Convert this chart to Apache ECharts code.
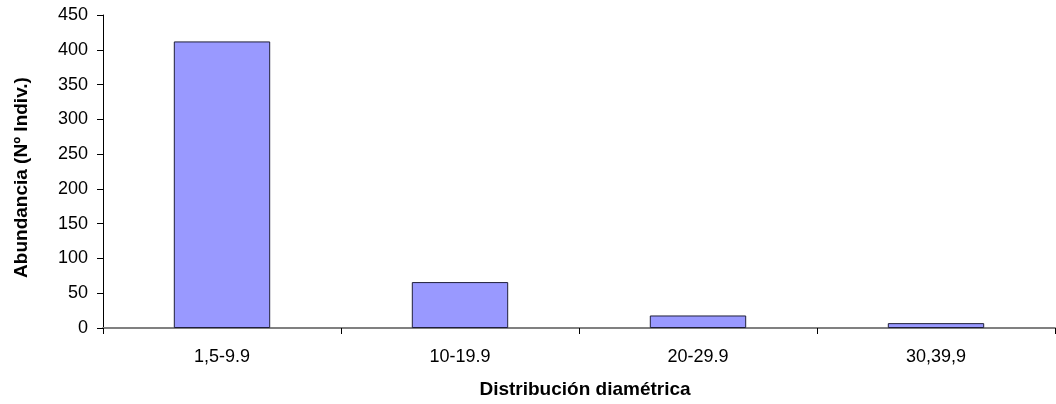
<!DOCTYPE html>
<html lang="es">
<head>
  <meta charset="UTF-8">
  <title>Distribución diamétrica</title>
  <script src="https://cdn.jsdelivr.net/npm/echarts@6/dist/echarts.min.js"></script>
  <style>
    body { margin: 0; background: #fff; }
    #chart { width: 1056px; height: 404px; }
  </style>
</head>
<body>
  <div id="chart"></div>
  <script>
    // diameter classes and number of individuals
    const categories = ['1,5-9.9', '10-19.9', '20-29.9', '30,39,9'];
    const abundance = [412, 66, 18, 7];

    const font = 'Liberation Sans, Arial, sans-serif';
    const chart = echarts.init(document.getElementById('chart'));

    chart.setOption({
      animation: false,
      grid: { left: 103, right: 1, top: 15, bottom: 76 },
      xAxis: {
        type: 'category',
        data: categories,
        name: 'Distribución diamétrica',
        nameLocation: 'middle',
        nameGap: 52,
        nameTextStyle: { fontFamily: font, fontSize: 19, fontWeight: 'bold', color: '#000', padding: [0, 0, 0, 12] },
        axisLine: { lineStyle: { color: '#808080', width: 2 } },
        axisTick: { show: true, length: 6, lineStyle: { color: '#000' } },
        axisLabel: { fontFamily: font, fontSize: 18, color: '#000', margin: 20 }
      },
      yAxis: {
        type: 'value',
        min: 0,
        max: 450,
        interval: 50,
        name: 'Abundancia (Nº Indiv.)',
        nameLocation: 'middle',
        nameGap: 72,
        nameTextStyle: { fontFamily: font, fontSize: 19, fontWeight: 'bold', color: '#000', padding: [0, 12, 0, 0] },
        axisLine: { show: true, lineStyle: { color: '#000' } },
        axisTick: { show: true, length: 6, lineStyle: { color: '#000' } },
        axisLabel: { fontFamily: font, fontSize: 18, color: '#000', margin: 15 },
        splitLine: { show: false }
      },
      series: [{
        type: 'bar',
        data: abundance,
        barWidth: '40.5%',
        itemStyle: { color: '#9999ff', borderColor: '#1f1f3a', borderWidth: 1 }
      }]
    });
  </script>
</body>
</html>
